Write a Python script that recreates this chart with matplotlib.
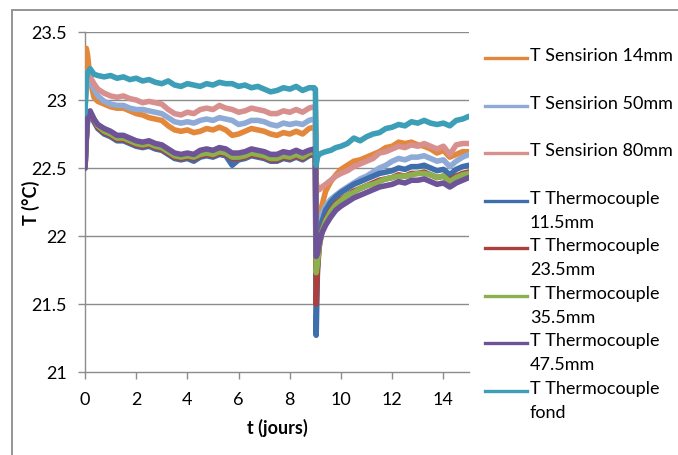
import matplotlib
matplotlib.use("Agg")
import matplotlib.pyplot as plt
from matplotlib.lines import Line2D
from matplotlib.patches import Rectangle

plt.rcParams['font.family'] = ['Lato', 'DejaVu Sans']

t = [0.0, 0.05, 0.1, 0.2, 0.35, 0.5,
     0.75, 1.0, 1.25, 1.5, 1.75, 2.0, 2.25, 2.5, 2.75, 3.0, 3.25, 3.5, 3.75,
     4.0, 4.25, 4.5, 4.75, 5.0, 5.25, 5.5, 5.75, 6.0, 6.25, 6.5, 6.75, 7.0,
     7.25, 7.5, 7.75, 8.0, 8.25, 8.5, 8.75,
     8.95, 9.0, 9.03, 9.08, 9.15, 9.25, 9.4, 9.6, 9.8, 10.0,
     10.25, 10.5, 10.75, 11.0, 11.25, 11.5, 11.75, 12.0, 12.25, 12.5, 12.75,
     13.0, 13.25, 13.5, 13.75, 14.0, 14.25, 14.5, 14.75, 15.0]

sens_14 = [23.00, 23.38, 23.33, 23.15, 23.02, 22.99,
           22.97, 22.95, 22.94, 22.94, 22.92, 22.90, 22.89, 22.87, 22.86, 22.85, 22.81, 22.78, 22.77,
           22.78, 22.76, 22.77, 22.79, 22.78, 22.80, 22.78, 22.74, 22.75, 22.77, 22.79, 22.78, 22.77,
           22.75, 22.74, 22.76, 22.75, 22.77, 22.75, 22.79,
           22.80, 22.79, 21.85, 21.95, 22.10, 22.22, 22.33, 22.40, 22.45, 22.49,
           22.52, 22.55, 22.56, 22.58, 22.60, 22.62, 22.65, 22.66, 22.69, 22.68, 22.69,
           22.67, 22.66, 22.64, 22.61, 22.63, 22.58, 22.60, 22.62, 22.62]

sens_50 = [22.95, 23.08, 23.14, 23.15, 23.08, 23.03,
           22.99, 22.97, 22.96, 22.96, 22.94, 22.93, 22.93, 22.92, 22.91, 22.90, 22.87, 22.84, 22.83,
           22.84, 22.83, 22.85, 22.86, 22.85, 22.87, 22.86, 22.85, 22.82, 22.83, 22.85, 22.85, 22.84,
           22.82, 22.81, 22.83, 22.82, 22.83, 22.82, 22.85,
           22.86, 22.85, 21.95, 21.98, 22.08, 22.16, 22.22, 22.27, 22.30, 22.33,
           22.36, 22.39, 22.42, 22.44, 22.47, 22.50, 22.52, 22.55, 22.57, 22.56, 22.58,
           22.58, 22.59, 22.57, 22.55, 22.56, 22.51, 22.55, 22.58, 22.60]

sens_80 = [23.00, 23.15, 23.18, 23.17, 23.12, 23.08,
           23.05, 23.03, 23.02, 23.03, 23.01, 23.00, 22.98, 22.99, 22.98, 22.97, 22.93, 22.90, 22.89,
           22.91, 22.90, 22.93, 22.94, 22.93, 22.96, 22.94, 22.93, 22.91, 22.92, 22.94, 22.93, 22.92,
           22.90, 22.90, 22.92, 22.91, 22.93, 22.91, 22.94,
           22.95, 22.93, 22.40, 22.34, 22.34, 22.36, 22.38, 22.41, 22.44, 22.46,
           22.48, 22.51, 22.53, 22.55, 22.57, 22.61, 22.62, 22.64, 22.66, 22.65, 22.67,
           22.66, 22.68, 22.66, 22.64, 22.66, 22.60, 22.67, 22.68, 22.68]

tc_115 = [22.50, 22.70, 22.85, 22.90, 22.84, 22.79,
          22.75, 22.73, 22.70, 22.70, 22.68, 22.66, 22.65, 22.66, 22.64, 22.63, 22.60, 22.57, 22.56,
          22.57, 22.55, 22.58, 22.59, 22.58, 22.60, 22.59, 22.52, 22.56, 22.57, 22.59, 22.58, 22.57,
          22.55, 22.55, 22.57, 22.56, 22.58, 22.56, 22.59,
          22.60, 22.59, 21.27, 21.75, 21.98, 22.10, 22.19, 22.25, 22.29, 22.32,
          22.35, 22.38, 22.40, 22.42, 22.44, 22.46, 22.47, 22.48, 22.50, 22.49, 22.51,
          22.51, 22.52, 22.50, 22.48, 22.49, 22.45, 22.49, 22.51, 22.52]

tc_235 = [22.50, 22.72, 22.87, 22.91, 22.85, 22.80,
          22.76, 22.74, 22.71, 22.71, 22.69, 22.67, 22.66, 22.67, 22.65, 22.64, 22.61, 22.58, 22.57,
          22.58, 22.57, 22.59, 22.60, 22.59, 22.61, 22.60, 22.57, 22.57, 22.58, 22.60, 22.59, 22.58,
          22.56, 22.56, 22.58, 22.57, 22.59, 22.57, 22.60,
          22.61, 22.60, 21.50, 21.75, 21.92, 22.03, 22.12, 22.19, 22.24, 22.27,
          22.30, 22.33, 22.35, 22.37, 22.39, 22.41, 22.42, 22.43, 22.45, 22.44, 22.46,
          22.46, 22.47, 22.45, 22.43, 22.44, 22.41, 22.44, 22.46, 22.47]

tc_355 = [22.50, 22.72, 22.86, 22.91, 22.86, 22.81,
          22.77, 22.75, 22.72, 22.72, 22.70, 22.68, 22.67, 22.68, 22.66, 22.65, 22.62, 22.59, 22.58,
          22.59, 22.58, 22.60, 22.61, 22.60, 22.62, 22.61, 22.58, 22.58, 22.59, 22.61, 22.60, 22.59,
          22.57, 22.57, 22.59, 22.58, 22.60, 22.58, 22.61,
          22.62, 22.61, 21.73, 21.80, 21.93, 22.03, 22.11, 22.18, 22.23, 22.26,
          22.30, 22.32, 22.35, 22.37, 22.38, 22.40, 22.42, 22.43, 22.44, 22.44, 22.45,
          22.46, 22.46, 22.45, 22.43, 22.44, 22.40, 22.43, 22.45, 22.46]

tc_475 = [22.50, 22.72, 22.86, 22.92, 22.86, 22.82,
          22.79, 22.77, 22.74, 22.74, 22.72, 22.70, 22.69, 22.70, 22.68, 22.67, 22.64, 22.61, 22.60,
          22.61, 22.60, 22.63, 22.64, 22.63, 22.65, 22.64, 22.61, 22.61, 22.62, 22.64, 22.63, 22.62,
          22.60, 22.60, 22.62, 22.61, 22.63, 22.61, 22.63,
          22.64, 22.63, 21.85, 21.87, 21.95, 22.02, 22.08, 22.14, 22.19, 22.22,
          22.25, 22.28, 22.30, 22.32, 22.34, 22.36, 22.37, 22.38, 22.40, 22.39, 22.41,
          22.41, 22.42, 22.40, 22.38, 22.39, 22.36, 22.39, 22.41, 22.43]

tc_fond = [22.90, 23.15, 23.20, 23.23, 23.19, 23.18,
           23.17, 23.18, 23.16, 23.17, 23.15, 23.16, 23.14, 23.15, 23.13, 23.12, 23.14, 23.11, 23.10,
           23.12, 23.11, 23.10, 23.12, 23.11, 23.13, 23.12, 23.12, 23.10, 23.11, 23.09, 23.10, 23.08,
           23.06, 23.07, 23.09, 23.08, 23.10, 23.07, 23.09,
           23.09, 23.08, 22.52, 22.58, 22.60, 22.61, 22.62, 22.63, 22.65, 22.66,
           22.68, 22.72, 22.70, 22.73, 22.75, 22.76, 22.79, 22.80, 22.82, 22.81, 22.84,
           22.83, 22.85, 22.83, 22.82, 22.83, 22.81, 22.85, 22.86, 22.88]

labels = ["T Sensirion 14mm", "T Sensirion 50mm", "T Sensirion 80mm",
          "T Thermocouple\n11.5mm", "T Thermocouple\n23.5mm", "T Thermocouple\n35.5mm",
          "T Thermocouple\n47.5mm", "T Thermocouple\nfond"]
series = [sens_14, sens_50, sens_80, tc_115, tc_235, tc_355, tc_475, tc_fond]
colors = ['#E3883A', '#8EAAD6', '#D8908E', '#3F6EAD', '#AA3F3C', '#8DB04E', '#6E5398', '#3C9FB7']

x_ticks = [0, 2, 4, 6, 8, 10, 12, 14]
y_ticks = [21, 21.5, 22, 22.5, 23, 23.5]
y_tick_labels = ["21", "21.5", "22", "22.5", "23", "23.5"]

W, H = 678, 456
FS = 13
fig = plt.figure(figsize=(W / 100, H / 100), dpi=100)
ax = fig.add_axes([85 / W, 1 - 373 / H, (469 - 85) / W, (373 - 33) / H])

for y, c in zip(series, colors):
    ax.plot(t, y, color=c, lw=4.0, solid_joinstyle='round', solid_capstyle='round', zorder=3)

ax.set_xlim(0, 15)
ax.set_ylim(21, 23.5)
ax.set_xticks(x_ticks)
ax.set_yticks(y_ticks)
ax.set_yticklabels(y_tick_labels)
gc = '#8C8C8C'
for yv in y_ticks[1:]:
    ax.axhline(yv, color=gc, lw=1.0, zorder=1)
for s in ['top', 'right']:
    ax.spines[s].set_visible(False)
for s in ['left', 'bottom']:
    ax.spines[s].set_color(gc)
    ax.spines[s].set_linewidth(1.0)
ax.tick_params(axis='both', direction='out', length=5, width=1.0, color=gc,
               labelsize=FS, labelcolor='black')
ax.tick_params(axis='y', pad=8)
ax.tick_params(axis='x', pad=9)
ax.set_xlabel("t (jours)", fontsize=FS, fontweight='bold', va='center')
ax.xaxis.set_label_coords(0.5, (373 - 428) / 340)
ax.set_ylabel("T (°C)", fontsize=FS, fontweight='bold', va='center')
ax.yaxis.set_label_coords((31 - 85) / 384, 0.5)

# outer chart border
fig.add_artist(Rectangle((12 / W, -0.2), 1.2, 1 - 11 / H + 0.2, transform=fig.transFigure,
                         fill=False, edgecolor='#8C8C8C', lw=1.3))

# legend drawn manually to reproduce the spreadsheet layout
row_y = [59, 107, 154, 202, 249, 297, 344, 392]
for lab, c, yy in zip(labels, colors, row_y):
    yf = 1 - yy / H
    fig.add_artist(Line2D([485 / W, 527 / W], [yf, yf], transform=fig.transFigure,
                          color=c, lw=2.4))
    fig.text(530 / W, 1 - (yy - 11) / H, lab, fontsize=FS, va='top', ha='left',
             linespacing=1.6)

fig.savefig("out.png", dpi=100)
